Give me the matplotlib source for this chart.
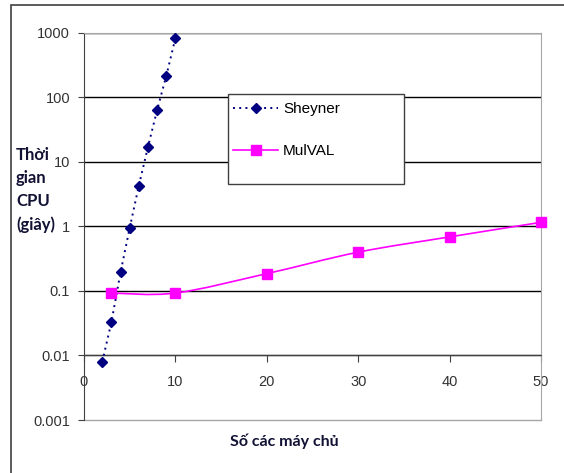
import numpy as np
import matplotlib.pyplot as plt
from matplotlib.path import Path
from matplotlib.patches import PathPatch, Rectangle
from matplotlib.lines import Line2D

# data
sheyner_x = [2, 3, 4, 5, 6, 7, 8, 9, 10]
sheyner_y = [0.008, 0.033, 0.195, 0.95, 4.3, 17.2, 64, 216, 830]
mulval_x = [3, 10, 20, 30, 40, 50]
mulval_y = [0.093, 0.093, 0.186, 0.40, 0.69, 1.16]
yticks = [0.001, 0.01, 0.1, 1, 10, 100, 1000]
ytick_labels = ["0.001", "0.01", "0.1", "1", "10", "100", "1000"]
xticks = [0, 10, 20, 30, 40, 50]

NAVY = "#000080"
MAGENTA = "#ff00ff"
TICK_FONT = "Liberation Sans"


def smooth_path(xs, ys):
    # excel-style smoothed line: cubic bezier segments (catmull-rom control points in log space)
    px = np.array(xs, dtype=float)
    py = np.log10(ys)
    n = len(px)
    verts = [(px[0], py[0])]
    codes = [Path.MOVETO]
    for i in range(n - 1):
        p0 = (px[i - 1], py[i - 1]) if i > 0 else (px[i], py[i])
        p3 = (px[i + 2], py[i + 2]) if i + 2 < n else (px[i + 1], py[i + 1])
        c1 = (px[i] + (px[i + 1] - p0[0]) / 6, py[i] + (py[i + 1] - p0[1]) / 6)
        c2 = (px[i + 1] - (p3[0] - px[i]) / 6, py[i + 1] - (p3[1] - py[i]) / 6)
        verts += [c1, c2, (px[i + 1], py[i + 1])]
        codes += [Path.CURVE4] * 3
    verts = [(vx, 10 ** vy) for vx, vy in verts]
    return Path(verts, codes)


fig = plt.figure(figsize=(5.64, 4.73), dpi=100)
ax = fig.add_axes([84 / 564, 1 - 420 / 473, (541 - 84) / 564, (420 - 33) / 473])

ax.set_yscale("log")
ax.set_ylim(0.001, 1000)
ax.set_xlim(0, 50)

# gridlines
for v in yticks[1:]:
    ax.axhline(v, color="black", lw=1.0, zorder=1)

# outer frame of plot area (light gray)
ax.spines["right"].set_color("#a6a6a6")
ax.spines["top"].set_color("#a6a6a6")
ax.spines["left"].set_color("#404040")
ax.axhline(0.001, color="#a6a6a6", lw=1.0, clip_on=False, zorder=1)

# x axis crosses at 0.01
ax.spines["bottom"].set_position(("data", 0.01))
ax.spines["bottom"].set_color("#404040")

ax.set_yticks(yticks)
ax.set_yticklabels(ytick_labels)
ax.minorticks_off()
ax.set_xticks(xticks)
ax.tick_params(axis="y", direction="out", length=4, pad=6, colors="#404040",
               labelcolor="#333333", labelsize=10.5)
ax.tick_params(axis="x", direction="out", length=5, pad=9, colors="#404040",
               labelcolor="#333333", labelsize=10.5)
for lab in ax.get_xticklabels() + ax.get_yticklabels():
    lab.set_fontfamily(TICK_FONT)

# Sheyner: dotted with diamonds
ax.plot(sheyner_x, sheyner_y, color=NAVY, ls=(0, (1, 2.2)), lw=1.4,
        marker="D", ms=5, mfc=NAVY, mec=NAVY, zorder=3, clip_on=False)

# MulVAL: smoothed line with squares
ax.add_patch(PathPatch(smooth_path(mulval_x, mulval_y), fc="none", ec=MAGENTA,
                       lw=1.2, zorder=3))
ax.plot(mulval_x, mulval_y, ls="none", marker="s", ms=6.5, mfc=MAGENTA, mec=MAGENTA,
        zorder=4, clip_on=False)

# legend box (drawn separately so it can be sized like the original)
ax.add_patch(Rectangle((228 / 564, 1 - 184 / 473), (404 - 228) / 564, 90 / 473,
                       transform=fig.transFigure, fc="white", ec="#404040",
                       lw=1.0, zorder=5))
handles = [
    Line2D([], [], color=NAVY, ls=(0, (1, 2.2)), lw=1.4, marker="D", ms=5),
    Line2D([], [], color=MAGENTA, lw=1.2, marker="s", ms=6.5),
]
leg = ax.legend(handles, ["Sheyner", "MulVAL"], loc="center left",
                bbox_to_anchor=(233 / 564, 1 - 130 / 473),
                bbox_transform=fig.transFigure, frameon=False,
                handlelength=2.95, handletextpad=0.33,
                labelspacing=1.85, borderpad=0, borderaxespad=0,
                prop={"family": TICK_FONT, "size": 11})
leg.set_zorder(6)

# axis titles
fig.text(16 / 564, 1 - 190 / 473, "Thời\ngian\nCPU\n(giây)", ha="left", va="center",
         family="Lato", weight="bold", fontsize=12, linespacing=1.55, color="#111133")
fig.text(284 / 564, 1 - 441 / 473, "Số các máy chủ", ha="center", va="center",
         family="Lato", weight="bold", fontsize=11.5, color="#111133")

# outer chart border (only top and left visible)
fig.patches.append(Rectangle((11 / 564, -0.1), 1.2, 1 - 5 / 473 + 0.1,
                             transform=fig.transFigure, fill=False,
                             ec="#404040", lw=1.2))

fig.savefig("out.png", dpi=100)
